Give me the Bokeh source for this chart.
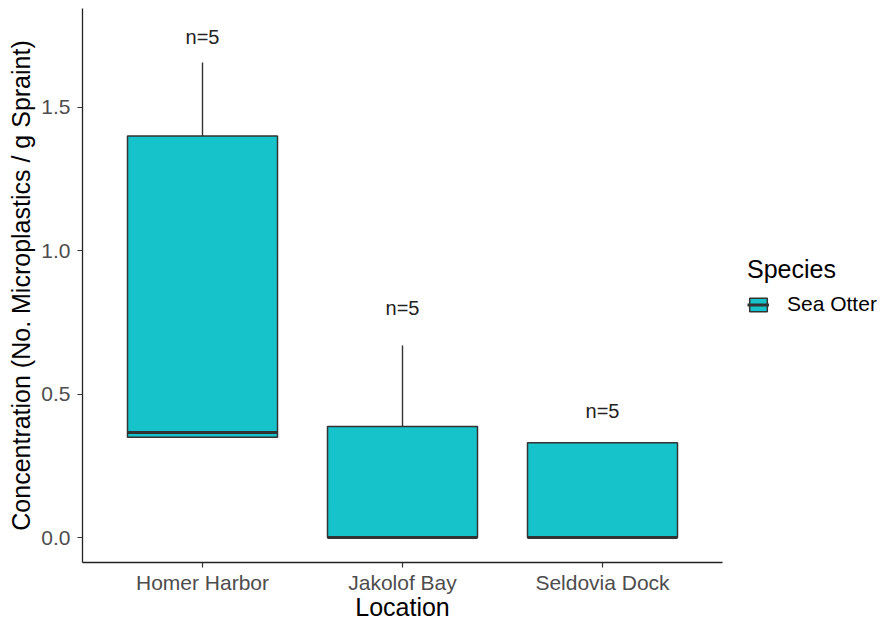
from bokeh.plotting import figure
from bokeh.models import (ColumnDataSource, FactorRange, Range1d, FixedTicker,
                          Legend, LegendItem, CustomJSTickFormatter)
from bokeh.transform import dodge
from bokeh.core.properties import value
from bokeh.embed import file_html
from bokeh.resources import INLINE

locations = ["Homer Harbor", "Jakolof Bay", "Seldovia Dock"]
q1 = [0.35, 0.0, 0.0]
median = [0.366, 0.0, 0.0]
q3 = [1.40, 0.387, 0.331]
upper = [1.657, 0.670, 0.331]
lower = [0.35, 0.0, 0.0]
n_labels = ["n=5", "n=5", "n=5"]
label_y = [1.745, 0.80, 0.443]
y_ticks = [0.0, 0.5, 1.0, 1.5]

FILL = "#16C3CB"
EDGE = "#333333"
FONT = "Liberation Sans"

src = ColumnDataSource(dict(x=locations, q1=q1, med=median, q3=q3,
                            up=upper, lo=lower, lab=n_labels, ly=label_y))

p = figure(width=882, height=621, output_backend="svg", toolbar_location=None,
           x_range=FactorRange(*locations, range_padding=0.2 / 3, range_padding_units="percent"),
           y_range=Range1d(-0.087, 1.845),
           frame_width=640, frame_height=554,
           min_border_left=82, min_border_top=8, min_border_bottom=59,
           min_border_right=160)
p.outline_line_color = None
p.grid.visible = False
p.background_fill_color = "white"
p.border_fill_color = "white"

# whiskers
p.segment(x0="x", y0="q3", x1="x", y1="up", source=src, line_color=EDGE, line_width=1.4)
p.segment(x0="x", y0="q1", x1="x", y1="lo", source=src, line_color=EDGE, line_width=1.4)
# boxes
box = p.vbar(x="x", bottom="q1", top="q3", width=0.75, source=src,
             fill_color=FILL, line_color=EDGE, line_width=1.5)
# medians
med = p.segment(x0=dodge("x", -0.375, range=p.x_range), y0="med",
                x1=dodge("x", 0.375, range=p.x_range), y1="med",
                source=src, line_color=EDGE, line_width=3)
# n labels
p.text(x="x", y="ly", text="lab", source=src, text_align="center",
       text_baseline="middle", text_font=value(FONT), text_font_size="20px",
       text_color="#222222")

# axes styling
for ax in (p.xaxis[0], p.yaxis[0]):
    ax.axis_line_color = "#222222"
    ax.axis_line_width = 1.3
    ax.major_tick_line_color = "#333333"
    ax.major_tick_line_width = 1.2
    ax.major_tick_out = 5
    ax.major_tick_in = 0
    ax.minor_tick_line_color = None
    ax.major_label_text_font = FONT
    ax.major_label_text_font_size = "21px"
    ax.major_label_text_color = "#4D4D4D"
    ax.axis_label_text_font = FONT
    ax.axis_label_text_font_size = "25px"
    ax.axis_label_text_font_style = "normal"
    ax.axis_label_text_color = "#000000"

p.yaxis.ticker = FixedTicker(ticks=y_ticks)
p.yaxis.formatter = CustomJSTickFormatter(code="return tick.toFixed(1);")
p.yaxis.axis_label = "Concentration (No. Microplastics / g Spraint)"
p.yaxis.major_label_standoff = 7
p.yaxis.axis_label_standoff = 3
p.xaxis.axis_label = "Location"
p.xaxis.major_label_standoff = 3
p.xaxis.axis_label_standoff = -4

legend = Legend(items=[LegendItem(label="Sea Otter", renderers=[box, med])],
                title="Species", location=(25, 246),
                title_text_font=FONT, title_text_font_size="25px",
                title_text_font_style="normal",
                title_text_color="#000000", title_standoff=8,
                label_text_font=FONT, label_text_font_size="21px",
                label_text_color="#000000",
                glyph_width=22, glyph_height=17, label_standoff=18,
                border_line_color=None, background_fill_alpha=0,
                margin=0, padding=0)
p.add_layout(legend, "right")

open("out.html", "w").write(file_html(p, INLINE))
